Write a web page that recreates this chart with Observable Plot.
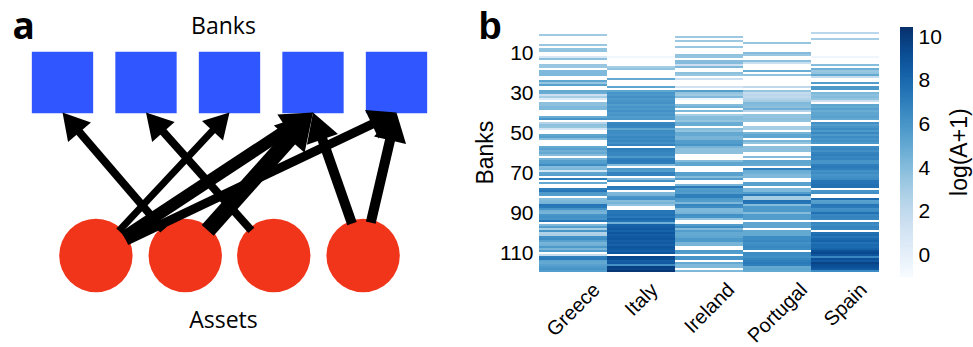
<!DOCTYPE html>
<html><head><meta charset="utf-8">
<script src="https://cdn.jsdelivr.net/npm/d3@7"></script>
<script src="https://cdn.jsdelivr.net/npm/@observablehq/plot@0.6"></script>
<style>
body{margin:0;background:#fff;}
#root{position:relative;width:973px;height:347px;overflow:hidden;background:#fff;}
.panel{position:absolute;top:0;}
</style></head><body><div id="root"></div>
<script>
// ---------- data ----------
const countries = ["Greece","Italy","Ireland","Portugal","Spain"];
const greece = [null,3.2,null,null,null,null,3.4,null,3.6,3.6, null,null,0.8,3.8,null,null,3.4,3.4,null,4.2, 4.2,4.2,null,null,5.2,3.5,5.4,null,null,5.0, 4.8,1.5,3.0,0.5,null,3.8,3.8,4.2,4.2,null, null,null,4.8,6.0,null,2.5,3.8,3.5,1.0,null, null,5.2,5.5,4.0,null,null,null,5.0,5.4,4.6, 5.0,4.0,null,4.5,5.5,5.6,6.4,4.0,4.2,1.0, 5.2,5.4,null,7.0,null,5.0,null,null,7.0,7.4, 5.8,5.6,null,4.0,4.2,4.4,7.4,7.2,6.0,4.6, 4.4,6.0,6.2,6.0,7.4,null,4.2,5.6,3.0,6.0, 2.6,2.8,6.2,6.4,5.4,4.4,4.6,5.8,4.4,5.6, null,1.8,7.0,7.2,5.2,5.0,5.4,5.8,6.0,5.6];
const italy = [null,null,null,null,null,null,null,null,null,null, null,null,-0.6,null,null,null,null,3.0,3.6,null, null,null,null,5.0,null,null,null,5.2,null,5.2, 6.0,5.8,6.2,5.8,6.0,6.2,5.6,6.0,5.8,6.2, 5.8,6.0,5.6,5.8,null,6.6,6.8,6.6,5.2,6.4, 6.4,6.2,6.6,6.4,6.6,6.2,6.8,null,7.0,6.8, 6.6,6.6,5.8,7.0,7.2,7.0,4.0,null,5.8,5.6, 6.8,6.8,null,4.0,6.2,null,null,7.2,7.0,null, 4.2,4.4,6.0,6.2,4.0,4.4,3.6,null,null,7.4, 7.4,7.6,7.2,8.0,7.6,4.6,8.2,8.4,8.6,8.2, 8.8,8.4,8.6,8.8,8.4,8.6,8.2,8.8,8.6,8.4, 8.8,null,9.4,9.2,8.4,8.6,6.2,9.8,9.6,10.2];
const ireland = [null,null,3.3,null,3.3,null,null,3.4,null,null, null,3.6,3.6,null,4.0,4.0,1.5,4.2,null,null, 3.8,3.4,null,1.5,null,null,null,1.2,null,5.5, 3.6,3.2,4.2,-0.5,null,null,4.0,4.6,null,4.2, null,3.0,4.0,4.0,3.5,4.8,4.8,null,4.0,3.6, 5.0,5.0,4.4,4.4,5.6,5.6,6.0,4.4,3.8,3.8, 3.8,null,null,null,4.0,5.2,5.2,null,null,null, 5.4,5.4,4.0,5.6,null,null,4.4,7.2,5.6,5.8, 5.6,7.0,7.0,5.8,5.6,4.2,6.6,6.4,4.2,4.2, 4.4,6.2,6.0,3.6,null,null,5.6,6.4,4.0,5.6, 5.0,5.0,5.2,5.8,5.8,4.4,4.4,null,null,5.8, 5.6,null,6.0,6.0,null,5.0,4.2,4.2,null,4.2];
const portugal = [null,null,null,null,null,3.5,null,null,null,null, 4.0,3.4,null,null,3.8,1.5,null,null,null,4.8, null,3.6,null,null,null,null,null,2.0,null,3.5, 1.8,2.2,2.0,2.6,3.0,4.2,4.0,3.8,4.6,2.5, null,3.6,3.6,3.8,3.6,null,null,3.0,3.0,null, 4.4,5.2,5.2,null,4.4,3.6,null,3.8,3.8,3.8, null,null,4.0,null,5.2,5.2,5.0,null,7.0,4.8, 4.6,4.2,4.2,null,null,5.4,5.4,null,4.2,4.2, 5.6,7.2,3.0,3.0,7.6,7.4,4.0,5.8,5.8,5.8, 4.0,5.6,5.6,5.6,null,5.2,5.2,5.2,null,5.0, 5.0,5.0,6.4,6.4,6.6,6.2,6.4,6.6,6.4,null, 6.4,6.4,6.2,6.6,7.0,7.2,7.0,5.0,5.2,5.0];
const spain = [2.2,null,null,3.0,null,null,null,null,null,null, null,null,-0.5,null,null,null,4.0,null,4.6,3.4, 3.6,5.0,1.8,null,null,5.6,null,5.8,5.8,null, 4.2,3.8,4.0,3.6,1.5,null,5.2,5.0,5.4,4.8, 5.2,5.2,5.4,5.0,null,6.2,5.6,6.0,6.4,5.8, 6.6,5.8,6.4,6.0,6.2,5.8,null,6.4,6.6,6.2, 6.8,7.0,6.6,6.8,6.0,6.0,7.0,7.2,7.0,6.2, 6.4,6.0,6.2,6.4,7.4,7.4,7.6,7.6,null,6.0, 6.2,null,null,7.8,5.4,5.6,7.4,7.2,6.2,6.4, 7.6,6.6,6.8,6.6,null,6.6,6.4,6.8,6.6,null, 7.6,7.8,7.4,8.0,8.2,7.6,8.0,7.8,8.2,9.0, 9.4,8.8,6.6,9.0,8.6,9.6,9.2,9.0,8.6,6.4];
const bankTicks = [10,30,50,70,90,110];
const colorTicks = [0,2,4,6,8,10];
const colorDomain = [-1, 10.45];

// network: edges from asset -> bank
const bankIds = [0,1,2,3,4];
const assetIds = [0,1,2,3];
const edgeAsset = [0,0,0,1,1,2,3,3];
const edgeBank  = [2,3,4,0,3,1,3,4];
const edgeWeight = [7,12,9,8,16,8,10,10];

// ---------- layout ----------
const root = document.getElementById("root");
function place(el, left){ el.classList.add("panel"); el.style.left = left + "px"; root.appendChild(el); }

// ----- panel a -----
const xA = {type:"linear", domain:[0,4], range:[62,396]};
const yA = {type:"linear", domain:[0,1], range:[255,82]};
const sx = Plot.scale({x: xA}), sy = Plot.scale({y: yA});
const assetPos = [0.4, 1.47, 2.53, 3.6];
const assetR = 36.7, bankHalf = 30;
const edges = edgeAsset.map((a, i) => {
  const b = edgeBank[i], w = edgeWeight[i];
  const x0 = sx.apply(assetPos[a]), y0 = sy.apply(0);
  const x1 = sx.apply(b), y1 = sy.apply(1) + bankHalf;
  const dx = x1 - x0, dy = y1 - y0, len = Math.hypot(dx, dy), ux = dx/len, uy = dy/len;
  const hs = 5.5 + w * 0.4;
  const ax = x0 + ux*(assetR - 3), ay = y0 + uy*(assetR - 3);
  const cx = x1 - ux*2*hs, cy = y1 - uy*2*hs;
  return {w, r: hs*Math.sqrt(3*Math.sqrt(3)/Math.PI),
    xs: sx.invert(ax), ys: sy.invert(ay), xe: sx.invert(cx), ye: sy.invert(cy),
    rot: Math.atan2(ux, -uy)*180/Math.PI};
});
const heads = edges.map(e => Plot.dot([e], {x: "xe", y: "ye", symbol: "triangle", r: e.r, rotate: e.rot, fill: "#000", stroke: "none"}));
const panelA = Plot.plot({
  width: 470, height: 347, margin: 0,
  x: {...xA, axis: null}, y: {...yA, axis: null},
  style: {fontFamily: "'Open Sans', sans-serif", background: "transparent"},
  marks: [
    Plot.dot(bankIds, {x: d => d, y: () => 1, symbol: "square", r: 34.6, fill: "#3057ff", stroke: "none"}),
    Plot.dot(assetIds, {x: d => assetPos[d], y: () => 0, r: assetR, fill: "#f0351b", stroke: "none"}),
    Plot.link(edges, {x1: "xs", y1: "ys", x2: "xe", y2: "ye", stroke: "#000", strokeWidth: "w", strokeLinecap: "butt"}),
    ...heads,
    Plot.text(["Banks"], {x: () => 2, y: () => 1, dx: -6, dy: -56, fontSize: 23, lineAnchor: "middle", fill: "#000"}),
    Plot.text(["Assets"], {x: () => 2, y: () => 0, dx: -6, dy: 65, fontSize: 23, lineAnchor: "middle", fill: "#000"}),
    Plot.text(["a"], {frameAnchor: "top-left", dx: 12, dy: 38, lineAnchor: "bottom", fontSize: 37, fontWeight: "bold", fill: "#000"})
  ]
});
place(panelA, 0);

// ----- panel b heatmap -----
const series = [greece, italy, ireland, portugal, spain];
const cells = [];
countries.forEach((c, ci) => series[ci].forEach((v, i) => { if (v != null) cells.push({country: c, bank: i, value: v}); }));
const canvas = document.createElement("canvas").getContext("2d");
canvas.font = "20px 'Liberation Sans'";
const xLabels = countries.map(c => {
  const L = canvas.measureText(c).width, h = 18;
  return Plot.text([c], {x: d => d, frameAnchor: "bottom", dy: 3 + 0.354*(L + h), rotate: -45,
    textAnchor: "middle", lineAnchor: "middle", fontSize: 20, fill: "#000"});
});
const heat = Plot.plot({
  width: 415, height: 347, marginLeft: 68, marginRight: 5, marginTop: 27.6, marginBottom: 70.3,
  x: {domain: countries, padding: 0, axis: null},
  y: {domain: d3.range(120), padding: 0, ticks: bankTicks, tickSize: 0, tickPadding: 5, label: null},
  color: {type: "linear", scheme: "blues", domain: colorDomain},
  style: {fontFamily: "'Liberation Sans', Arial, sans-serif", fontSize: "21px", color: "#000", background: "transparent"},
  marks: [
    Plot.cell(cells, {x: "country", y: "bank", fill: "value", inset: 0, shapeRendering: "crispEdges"}),
    ...xLabels,
    Plot.text(["Banks"], {frameAnchor: "left", dx: -53, rotate: -90, fontSize: 23, lineAnchor: "middle", textAnchor: "middle", fill: "#000"}),
    Plot.text(["b"], {frameAnchor: "top-left", dx: -60, dy: 10.4, lineAnchor: "bottom", fontSize: 38, fontWeight: "bold", fill: "#000"})
  ]
});
place(heat, 470);

// ----- colorbar -----
const nSteps = 150, stepW = (colorDomain[1] - colorDomain[0]) / nSteps;
const steps = d3.range(nSteps).map(i => colorDomain[0] + i*stepW);
const cbar = Plot.plot({
  width: 88, height: 347, marginLeft: 15, marginRight: 60, marginTop: 26.7, marginBottom: 70.3,
  x: {domain: [0, 1], axis: null},
  y: {domain: colorDomain, ticks: colorTicks, tickSize: 0, tickPadding: 5, label: null, axis: "right"},
  color: {type: "linear", scheme: "blues", domain: colorDomain},
  style: {fontFamily: "'Liberation Sans', Arial, sans-serif", fontSize: "21px", color: "#000", background: "transparent", overflow: "visible"},
  marks: [
    Plot.rect(steps, {x1: () => 0, x2: () => 1, y1: d => d, y2: d => d + stepW*1.02, fill: d => d + stepW/2, shapeRendering: "crispEdges"}),
    Plot.text(["log(A+1)"], {frameAnchor: "right", dx: 46, rotate: -90, fontSize: 23, lineAnchor: "middle", textAnchor: "middle", fill: "#000"})
  ]
});
place(cbar, 885);
</script></body></html>
